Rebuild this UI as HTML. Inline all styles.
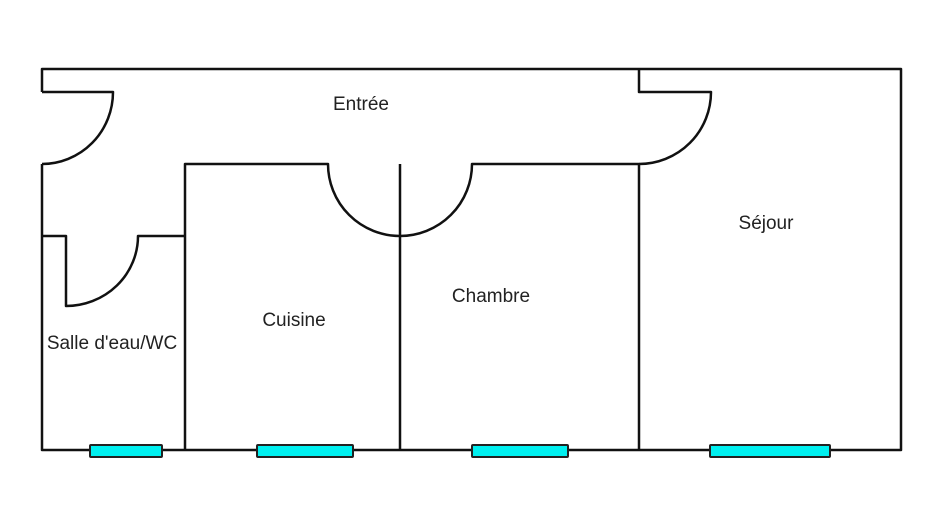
<!DOCTYPE html>
<html><head><meta charset="utf-8"><style>
html,body{margin:0;padding:0;background:#fff;}
svg{display:block;}
text{font-family:"Liberation Sans",sans-serif;font-size:19px;fill:#222;}
</style></head><body>
<svg width="947" height="524" viewBox="0 0 947 524" xmlns="http://www.w3.org/2000/svg">
<g fill="none" stroke="#111" stroke-width="2.5" stroke-linejoin="round">
<path d="M42 92 L42 69 L901 69 L901 450 L42 450 L42 164"/>
<path d="M42 92 L113 92 A71 72 0 0 1 42 164"/>
<path d="M185 450 L185 164 L328 164 A72 72 0 0 0 472 164 L639 164 L639 450"/>
<path d="M400 164 L400 450"/>
<path d="M639 164 A72 72 0 0 0 711 92 L639 92 L639 69"/>
<path d="M42 236 L66 236 L66 306 A72 70 0 0 0 138 236 L185 236"/>
</g>
<g fill="#00f0f0" stroke="#222" stroke-width="2">
<rect x="90" y="445" width="72" height="12" rx="1"/>
<rect x="257" y="445" width="96" height="12" rx="1"/>
<rect x="472" y="445" width="96" height="12" rx="1"/>
<rect x="710" y="445" width="120" height="12" rx="1"/>
</g>
<text x="361" y="110" text-anchor="middle">Entrée</text>
<text x="766" y="229" text-anchor="middle">Séjour</text>
<text x="491" y="302" text-anchor="middle">Chambre</text>
<text x="294" y="326" text-anchor="middle">Cuisine</text>
<text x="112" y="349" text-anchor="middle">Salle d'eau/WC</text>
</svg>
</body></html>
